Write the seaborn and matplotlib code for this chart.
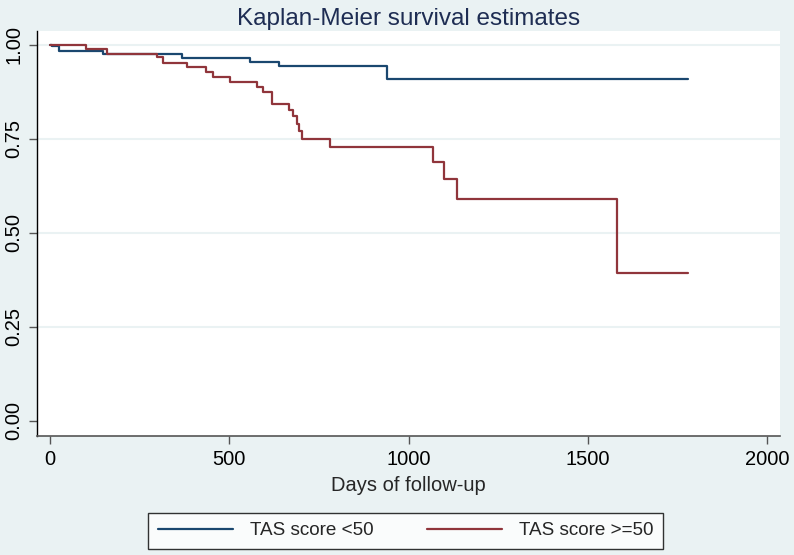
import matplotlib
matplotlib.use("Agg")
import matplotlib.pyplot as plt
import pandas as pd
import seaborn as sns

# Kaplan-Meier step values
groups = ["TAS score <50", "TAS score >=50"]
low_days = [0, 6, 26, 149, 367, 558, 640, 940, 1780]
low_surv = [1.0, 0.995, 0.983, 0.975, 0.965, 0.954, 0.942, 0.908, 0.908]
high_days = [0, 100, 158, 298, 314, 381, 434, 454, 502, 578, 595, 618, 668,
             679, 688, 695, 702, 781, 1069, 1099, 1134, 1581, 1780]
high_surv = [1.0, 0.988, 0.975, 0.966, 0.952, 0.940, 0.927, 0.914, 0.900,
             0.888, 0.873, 0.842, 0.826, 0.810, 0.790, 0.770, 0.749, 0.727,
             0.688, 0.643, 0.589, 0.392, 0.392]
x_ticks = [0, 500, 1000, 1500, 2000]
y_ticks = [0.0, 0.25, 0.5, 0.75, 1.0]
y_ticklabels = ["0.00", "0.25", "0.50", "0.75", "1.00"]

df = pd.concat([
    pd.DataFrame({"days": low_days, "surv": low_surv, "group": groups[0]}),
    pd.DataFrame({"days": high_days, "surv": high_surv, "group": groups[1]}),
])

sns.set_theme(style="white")
plt.rcParams["font.family"] = ["Liberation Sans", "DejaVu Sans"]

bg = "#eaf2f3"
fig = plt.figure(figsize=(7.94, 5.55), dpi=100, facecolor=bg)
ax = fig.add_axes([0.0466, 0.215, 0.9358, 0.729])
ax.set_facecolor("white")

for yv in y_ticks[1:]:
    ax.axhline(yv, color=bg, lw=1.5, zorder=0)

sns.lineplot(
    data=df, x="days", y="surv", hue="group",
    palette=["#1a476f", "#90353b"], estimator=None, sort=False,
    drawstyle="steps-post", linewidth=1.6, legend=False, ax=ax,
)

ax.set_xlim(-36, 2036)
ax.set_ylim(-0.04, 1.036)
ax.set_xticks(x_ticks)
ax.set_yticks(y_ticks)
ax.set_yticklabels(y_ticklabels, rotation=90, va="center")
ax.tick_params(axis="both", direction="out", length=5.5, width=1, color="#555555",
               labelsize=14.5, colors="#555555", labelcolor="black", pad=4.5,
               left=True, bottom=True)
ax.set_xlabel("Days of follow-up", fontsize=14.5, labelpad=5)
ax.set_ylabel("")
ax.set_title("Kaplan-Meier survival estimates", fontsize=17.5, color="#1e2d53", pad=4.5)

for s in ["top", "right"]:
    ax.spines[s].set_visible(False)
ax.spines["left"].set_color("black")
ax.spines["bottom"].set_color("#555555")
ax.spines["left"].set_linewidth(1)
ax.spines["bottom"].set_linewidth(1.2)

handles = [plt.Line2D([], [], color=c, lw=1.6) for c in ["#1a476f", "#90353b"]]
leg = fig.legend(handles, groups, loc="lower center", bbox_to_anchor=(0.511, 0.011),
                 ncol=2, fontsize=13.6, frameon=True, fancybox=False,
                 edgecolor="black", facecolor="white", handlelength=4.0,
                 handletextpad=0.9, columnspacing=2.8, borderpad=0.5,
                 borderaxespad=0)
leg.get_frame().set_linewidth(1)

fig.savefig("out.png", dpi=100, facecolor=bg)
